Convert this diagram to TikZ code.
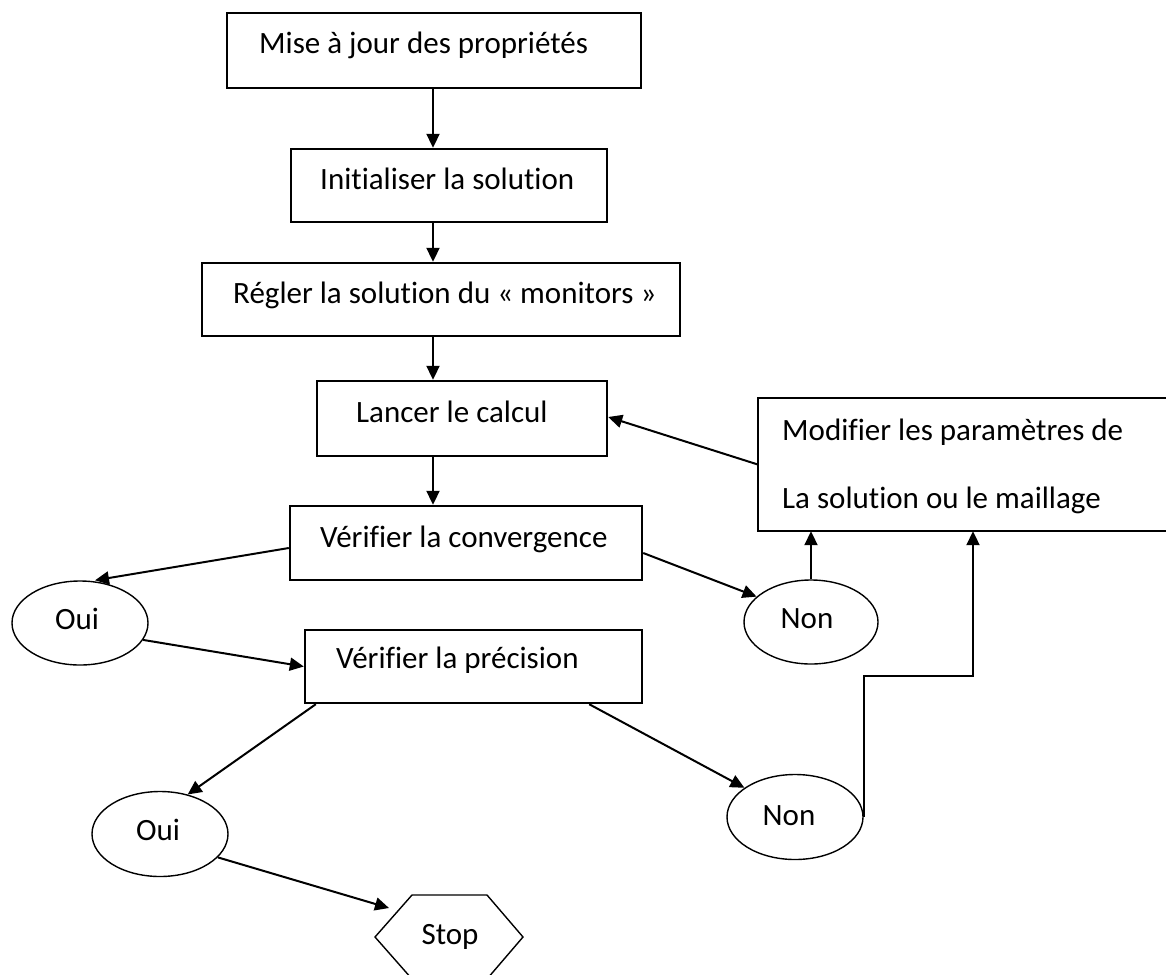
\documentclass[tikz,border=0pt]{standalone}
\usepackage{fontspec}
\setmainfont{Carlito}[RawFeature={-liga}]
\usetikzlibrary{arrows.meta,shapes.geometric}
\begin{document}
\begin{tikzpicture}[x=1pt,y=-1pt,
  box/.style={draw,line width=2.4pt,inner sep=0pt,rectangle},
  oval/.style={draw,line width=1.4pt,inner sep=0pt,ellipse},
  txt/.style={inner sep=0pt,font=\fontsize{31}{37}\selectfont},
  arr/.style={line width=2pt,-{Triangle[length=14pt,width=13pt]}}]
\useasboundingbox[fill=white] (0,0) rectangle (1166,974);
% boxes
\node[box,minimum width=414pt,minimum height=75pt] (b1) at (434,50.5) {};
\node[box,minimum width=316pt,minimum height=73pt] (b2) at (449,185.5) {};
\node[box,minimum width=478pt,minimum height=73pt] (b3) at (441,299.5) {};
\node[box,minimum width=290pt,minimum height=75pt] (b4) at (462,418.5) {};
\node[box,minimum width=352pt,minimum height=74pt] (b5) at (466,543) {};
\node[box,minimum width=337pt,minimum height=73pt] (b6) at (473.5,666.5) {};
\node[inner sep=0pt,minimum width=408pt,minimum height=133pt] (mod) at (962,464.5) {};
\draw[line width=2.4pt] (mod.north east) -- (mod.north west) -- (mod.south west) -- (mod.south east);
% texts
\node[txt,anchor=base west] (t1) at (259,53) {Mise à jour des propriétés};
\node[txt,anchor=base west] (t2) at (320,189) {Initialiser la solution};
\node[txt,anchor=base west] (t3) at (233,303) {Régler la solution du « monitors »};
\node[txt,anchor=base west] (t4) at (356,422) {Lancer le calcul};
\node[txt,anchor=base west] (t5) at (320,547) {Vérifier la convergence};
\node[txt,anchor=base west] (t6) at (336,668) {Vérifier la précision};
\node[txt,anchor=base west] (t7) at (782,440) {Modifier les paramètres de};
\node[txt,anchor=base west] (t8) at (782,508) {La solution ou le maillage};
% ellipses
\node[oval,minimum width=136pt,minimum height=84pt] (oui1) at (80,623) {};
\node[oval,minimum width=134pt,minimum height=84pt] (non1) at (811,622) {};
\node[oval,minimum width=136pt,minimum height=85pt] (oui2) at (160,834) {};
\node[oval,minimum width=136pt,minimum height=85pt] (non2) at (795,817) {};
\node[txt,anchor=base] (to1) at (77,629) {Oui};
\node[txt,anchor=base] (tn1) at (807,628) {Non};
\node[txt,anchor=base] (to2) at (158,840) {Oui};
\node[txt,anchor=base] (tn2) at (789,825) {Non};
% stop hexagon
\draw[line width=1.4pt] (412,895) -- (487,895) -- (523,937) -- (487,979) -- (412,979) -- (375,937) -- cycle;
\node[txt,anchor=base] (stop) at (450,944) {Stop};
\coordinate (stopin) at (389,908);
% connectors
\coordinate (ax) at (433,0);
\draw[arr] (b1.south -| ax) -- (b2.north -| ax);
\draw[arr] (b2.south -| ax) -- (b3.north -| ax);
\draw[arr] (b3.south -| ax) -- (b4.north -| ax);
\draw[arr] (b4.south -| ax) -- (b5.north -| ax);
\draw[arr] ([yshift=-5pt]b5.west) -- ([xshift=15pt]oui1.north);
\draw[arr] (oui1.-15) -- (b6.west);
\draw[arr] ([yshift=-10pt]b5.east) -- (non1.155);
\draw[arr] (non1.north) -- (non1.north |- mod.south);
\draw[arr] (mod.west) -- ([yshift=1.5pt]b4.east);
\draw[arr] ([xshift=12pt]b6.south west) -- (oui2.55);
\draw[arr] ([xshift=-54pt]b6.south east) -- (non2.150);
\coordinate (elb) at (973,676);
\draw[arr] (non2.east) |- (elb) -- (elb |- mod.south);
\draw[arr] (oui2.-22) -- (stopin);
\end{tikzpicture}
\end{document}
